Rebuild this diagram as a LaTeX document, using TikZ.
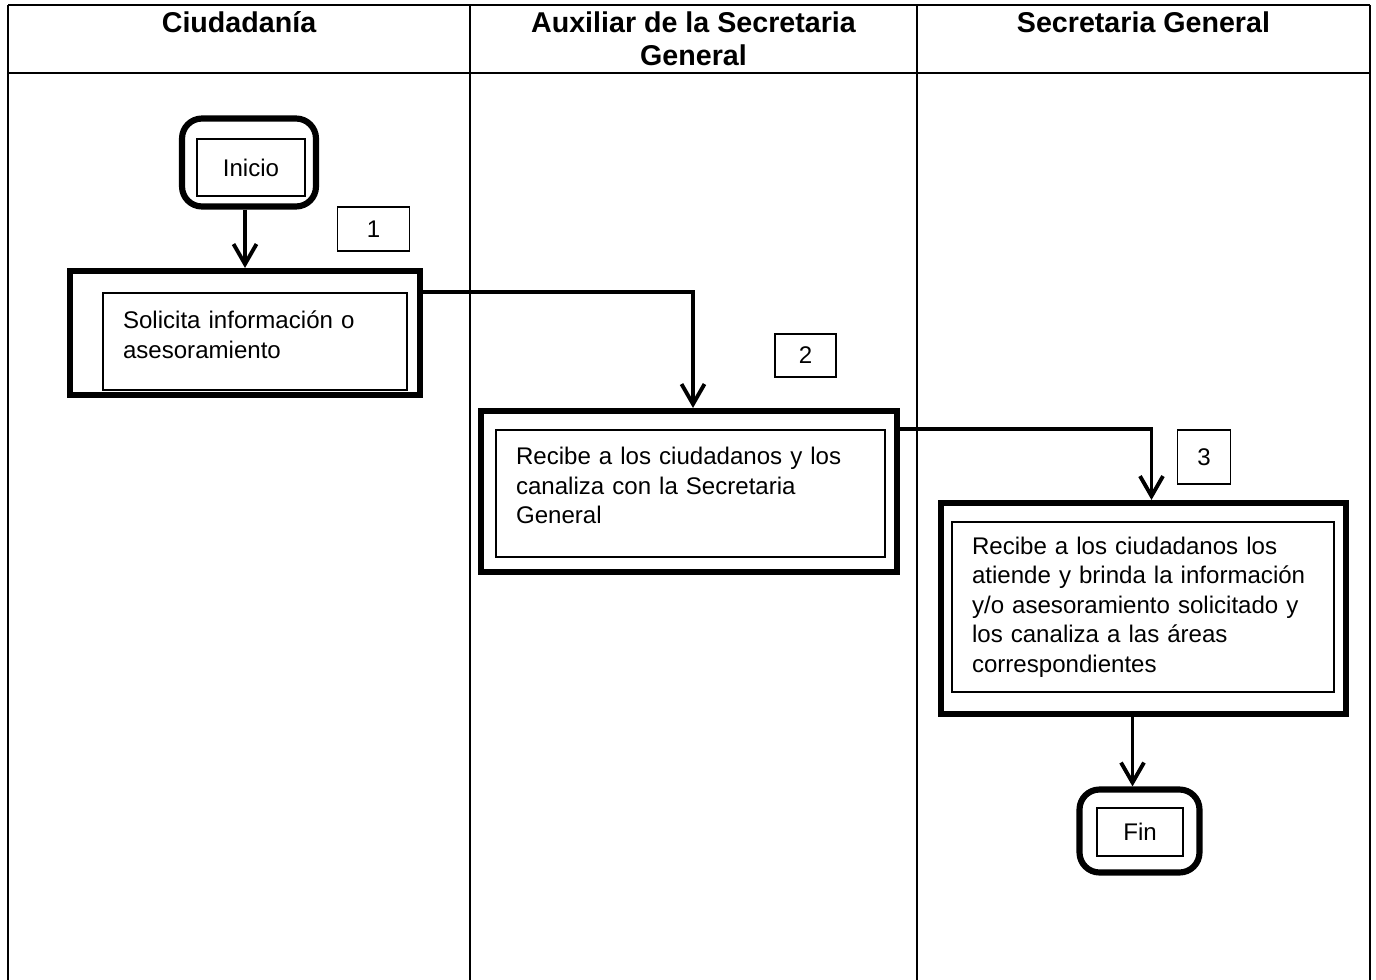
\documentclass[tikz,border=0pt]{standalone}
\usepackage{fontspec}
\setmainfont{Liberation Sans}
\usetikzlibrary{arrows.meta, positioning, calc}
\newcommand{\bodyfont}{\fontsize{13.7}{16.8}\selectfont}

\begin{document}
\begin{tikzpicture}[x=0.02cm, y=-0.02cm,
  lane/.style={line width=1.4pt},
  head/.style={font=\fontsize{16.3}{18.8}\selectfont\bfseries,
               align=center, inner sep=0pt, anchor=north},
  outer/.style={draw, line width=3.5pt, inner sep=0pt},
  term/.style={outer, rounded corners=0.4cm},
  inner/.style={draw, line width=0.8pt, inner sep=0pt, font=\bodyfont},
  txt/.style={inner, align=left, inner xsep=0.4cm},
  num/.style={draw, line width=0.8pt, inner sep=0pt, font=\bodyfont},
  arr/.style={-{Straight Barb[length=0.4cm, width=0.46cm]}, line width=2.2pt}
]
\useasboundingbox (0,0) rectangle (1376,980);

% table
\draw[lane] (8,5) -- (1370,5);
\draw[lane] (8,73) -- (1370,73);
\foreach \x in {8,470,917,1370}
  \draw[lane] (\x,5) -- (\x,980);

\node[head] (hCiu) at (239,11)    {Ciudadanía};
\node[head] (hAux) at (693.5,11)  {Auxiliar de la Secretaria\\General};
\node[head] (hSec) at (1143.5,11) {Secretaria General};

% Ciudadania
\node[term, minimum width=2.68cm, minimum height=1.76cm] (inicio) at (249,162.5) {};
\node[inner, minimum width=2.16cm, minimum height=1.14cm] (inicioIn) at (251,167.5) {Inicio\hspace{0.1cm}};
\node[num, minimum width=1.44cm, minimum height=0.88cm] (n1) at (373.5,229) {1};
\node[outer, minimum width=7.0cm, minimum height=2.48cm] (solicita) at (245,333) {};
\node[txt, text width=5.28cm, text depth=0.87cm, minimum height=1.94cm] (solicitaIn) at (255,341.5)
  {Solicita información o\\asesoramiento};

% Auxiliar
\node[num, minimum width=1.22cm, minimum height=0.86cm] (n2) at (805.5,355.5) {2};
\node[outer, minimum width=8.32cm, minimum height=3.22cm] (recibe) at (689,491.5) {};
\node[txt, text width=6.98cm, text depth=1.5cm, minimum height=2.54cm] (recibeIn) at (690.5,493.5)
  {Recibe a los ciudadanos y los\\canaliza con la Secretaria\\General};

% Secretaria
\node[num, minimum width=1.06cm, minimum height=1.08cm] (n3) at (1204,457) {3};
\node[outer, minimum width=8.1cm, minimum height=4.22cm] (atiende) at (1143.5,608.5) {};
\node[txt, text width=6.84cm, minimum height=3.4cm] (atiendeIn) at (1143,607)
  {Recibe a los ciudadanos los\\atiende y brinda la información\\y/o asesoramiento solicitado y\\los canaliza a las áreas\\correspondientes};
\node[term, minimum width=2.4cm, minimum height=1.66cm] (fin) at (1139.5,831) {};
\node[inner, minimum width=1.72cm, minimum height=0.96cm] (finIn) at (1140,832) {Fin\hspace{0.1cm}};

% flow
\draw[arr] (inicio.south -| solicita.north) -- (solicita.north);
\draw[arr] (solicitaIn.north -| solicita.east) -| ([xshift=0.08cm]recibe.north);
\draw[arr] (recibeIn.north -| recibe.east) -| ([xshift=0.16cm]atiende.north);
\draw[arr] ([xshift=-0.14cm]fin.north |- atiende.south) -- ([xshift=-0.14cm]fin.north);
\end{tikzpicture}
\end{document}
